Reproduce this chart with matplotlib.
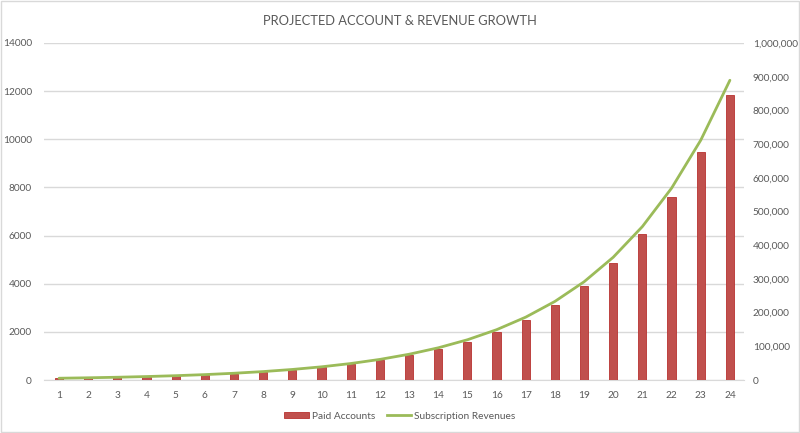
import matplotlib
matplotlib.use('Agg')
import matplotlib.pyplot as plt
import matplotlib.ticker as mticker
from matplotlib.patches import Rectangle
from matplotlib.lines import Line2D
import numpy as np

plt.rcParams['font.family'] = ['Lato', 'DejaVu Sans']

# 월(기간) 1~24
months = list(range(1, 25))
# 유료 계정 수
paid_accounts = [70, 88, 109, 137, 171, 214, 267, 334, 417, 521, 652, 815,
                 1018, 1273, 1591, 1989, 2486, 3108, 3885, 4856, 6070, 7588, 9485, 11856]
# 구독 매출
revenues = [5250, 6560, 8200, 10250, 12820, 16020, 20030, 25030, 31290, 39120, 48900, 61120,
            76400, 95500, 119370, 149220, 186520, 233150, 291440, 364300, 455370, 569210, 711520, 889400]

title = "PROJECTED ACCOUNT & REVENUE GROWTH"
grey = '#595959'
bar_color = '#C0504D'
line_color = '#9BBB59'

fig = plt.figure(figsize=(8, 4.33), dpi=100)
ax = fig.add_axes([0.0556, 0.1224, 0.875, 0.7783])
ax2 = ax.twinx()

x = np.arange(len(months))
ax.bar(x, paid_accounts, width=0.28, color=bar_color, edgecolor='#B8312F', linewidth=0.6, zorder=3)
ax2.plot(x, revenues, color=line_color, linewidth=2.0, zorder=4, solid_capstyle='round')

ax.set_xlim(-0.5, len(months) - 0.5)
ax.set_ylim(0, 14000)
ax2.set_ylim(0, 1000000)
ax.set_yticks(range(0, 14001, 2000))
ax2.set_yticks(range(0, 1000001, 100000))
ax2.yaxis.set_major_formatter(mticker.FuncFormatter(lambda v, p: f"{int(v):,}"))
ax.set_xticks(x)
ax.set_xticklabels([str(m) for m in months])

ax.grid(axis='y', color='#D9D9D9', linewidth=1.0, zorder=0)
ax.set_axisbelow(True)
for a in (ax, ax2):
    for s in a.spines.values():
        s.set_visible(False)
    a.tick_params(length=0, labelsize=7.3, labelcolor=grey)
ax.spines['bottom'].set_visible(True)
ax.spines['bottom'].set_color('#D9D9D9')
ax.tick_params(axis='y', pad=9)
ax.tick_params(axis='x', pad=8)
ax2.tick_params(axis='y', pad=6)
ax2.set_zorder(ax.get_zorder() + 1)
ax2.patch.set_visible(False)

fig.text(0.5, 0.951, title, ha='center', va='center', fontsize=9.3, color=grey)

handles = [Rectangle((0, 0), 1, 1, facecolor=bar_color, edgecolor='#B8312F', linewidth=0.6),
           Line2D([0], [0], color=line_color, linewidth=2.0)]
fig.legend(handles, ['Paid Accounts', 'Subscription Revenues'], loc='center',
           bbox_to_anchor=(0.5, 0.039), ncol=2, frameon=False, fontsize=7.3,
           labelcolor=grey, handlelength=2.4, handleheight=0.45, handletextpad=0.3,
           columnspacing=1.2)

fig.patches.append(Rectangle((0.001, 0.002), 0.998, 0.996, transform=fig.transFigure,
                             fill=False, edgecolor='#D9D9D9', linewidth=1.0))

fig.savefig('out.png', dpi=100)
